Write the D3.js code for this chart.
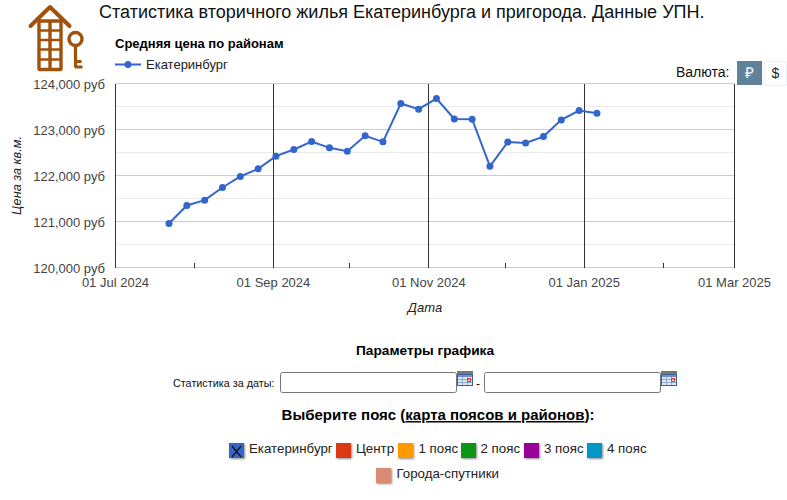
<!DOCTYPE html>
<html><head><meta charset="utf-8">
<script src="https://cdn.jsdelivr.net/npm/d3@7/dist/d3.min.js"></script>
<style>
html,body{margin:0;padding:0;background:#fff;overflow:hidden}
svg{display:block;font-family:"Liberation Sans",Arial,sans-serif}
</style></head><body>
<svg id="c" width="787" height="500"></svg>
<script>
const dates = ["2024-07-22","2024-07-29","2024-08-05","2024-08-12","2024-08-19","2024-08-26","2024-09-02","2024-09-09","2024-09-16","2024-09-23","2024-09-30","2024-10-07","2024-10-14","2024-10-21","2024-10-28","2024-11-04","2024-11-11","2024-11-18","2024-11-25","2024-12-02","2024-12-09","2024-12-16","2024-12-23","2024-12-30","2025-01-06"];
const prices = [120957,121348,121464,121739,121978,122145,122420,122565,122739,122601,122529,122862,122732,123565,123442,123673,123230,123223,122200,122730,122708,122846,123209,123412,123354];
const majorDates = ["2024-07-01","2024-09-01","2024-11-01","2025-01-01","2025-03-01"];
const majorLabels = ["01 Jul 2024","01 Sep 2024","01 Nov 2024","01 Jan 2025","01 Mar 2025"];
const minorDates = ["2024-08-01","2024-10-01","2024-12-01","2025-02-01"];
const yMajor = [120000,121000,122000,123000,124000];
const yMinor = [120500,121500,122500,123500];
const zones = ["Екатеринбург","Центр","1 пояс","2 пояс","3 пояс","4 пояс","Города-спутники"];
const zoneColors = ["#3366cc","#dc3912","#ff9900","#109618","#990099","#0099c6","#d98b73"];

const svg = d3.select("#c");
const parse = d3.utcParse("%Y-%m-%d");
const x = d3.scaleUtc().domain([parse(majorDates[0]), parse(majorDates[4])]).range([115.5,734.5]);
const y = d3.scaleLinear().domain([120000,124000]).range([267.5,83.5]);
const AX = "#444";

const defs = svg.append("defs");
const f = defs.append("filter").attr("id","sh").attr("x","-30%").attr("y","-30%").attr("width","170%").attr("height","170%");
f.append("feDropShadow").attr("dx",1).attr("dy",1).attr("stdDeviation",1).attr("flood-color","#000").attr("flood-opacity",.45);

// logo
const logo = svg.append("g").attr("fill","none").attr("stroke","#a0520c").attr("stroke-linecap","round").attr("stroke-linejoin","round");
logo.append("path").attr("d","M30.5 26 L50 7 L69.5 26").attr("stroke-width",4);
logo.append("rect").attr("x",39).attr("y",21).attr("width",22).attr("height",48.5).attr("rx",1).attr("stroke-width",3.4);
logo.append("path").attr("stroke-width",2.4).attr("stroke-linecap","butt").attr("d","M39 30.5H61 M39 40H61 M39 49.5H61 M39 59.5H61");
logo.append("path").attr("stroke-width",3.4).attr("stroke-linecap","butt").attr("d","M50 20V70");
logo.append("circle").attr("cx",75.5).attr("cy",39).attr("r",6.5).attr("stroke-width",3.4);
logo.append("path").attr("stroke-width",3.2).attr("stroke-linecap","butt").attr("d","M75.5 46V67.5 M75 67H82.5 M75 61.5H81.5");

const t = (px,py,s,o={}) => svg.append("text").attr("x",px).attr("y",py).text(s)
  .attr("font-size",o.size||13).attr("fill",o.fill||"#000").attr("font-weight",o.weight||null)
  .attr("font-style",o.style||null).attr("text-anchor",o.anchor||"start");
t(99,18,"Статистика вторичного жилья Екатеринбурга и пригорода. Данные УПН.",{size:18,fill:"#111"});
t(115,48,"Средняя цена по районам",{size:13,weight:"bold"});
svg.append("line").attr("x1",115).attr("x2",141).attr("y1",64.5).attr("y2",64.5).attr("stroke",zoneColors[0]).attr("stroke-width",2);
svg.append("circle").attr("cx",128).attr("cy",64.5).attr("r",3.5).attr("fill",zoneColors[0]);
t(146,69,zones[0],{size:13,fill:"#222"});

// currency
t(676,77,"Валюта:",{size:14,fill:"#111"});
svg.append("rect").attr("x",737).attr("y",61).attr("width",25).attr("height",24).attr("fill","#5f8199");
svg.append("rect").attr("x",764.5).attr("y",61.5).attr("width",22).attr("height",24).attr("fill","#fff").attr("stroke","#eef5f8");
t(749.5,78,"₽",{size:15,fill:"#fff",anchor:"middle"});
t(775.5,78,"$",{size:14,fill:"#222",anchor:"middle"});

// grid
const g = svg.append("g").attr("shape-rendering","crispEdges");
g.selectAll(".mn").data(yMinor).join("line").attr("x1",115.5).attr("x2",734.5).attr("y1",d=>Math.floor(y(d))+.5).attr("y2",d=>Math.floor(y(d))+.5).attr("stroke","#ebebeb");
g.selectAll(".mj").data(yMajor).join("line").attr("x1",115.5).attr("x2",734.5).attr("y1",d=>Math.floor(y(d))+.5).attr("y2",d=>Math.floor(y(d))+.5).attr("stroke","#cccccc");
g.selectAll(".vx").data(majorDates).join("line").attr("x1",d=>Math.floor(x(parse(d)))+.5).attr("x2",d=>Math.floor(x(parse(d)))+.5).attr("y1",83.5).attr("y2",267.5).attr("stroke","#333");
g.selectAll(".tk").data(minorDates).join("line").attr("x1",d=>Math.floor(x(parse(d)))+.5).attr("x2",d=>Math.floor(x(parse(d)))+.5).attr("y1",263).attr("y2",267.5).attr("stroke","#333");

// axis labels
svg.append("g").selectAll("text").data(yMajor).join("text").attr("x",105).attr("y",d=>y(d)+5)
  .attr("text-anchor","end").attr("font-size",13).attr("fill",AX).text(d=>d3.format(",")(d)+" руб");
svg.append("g").selectAll("text").data(majorDates).join("text").attr("x",d=>x(parse(d))).attr("y",287)
  .attr("text-anchor","middle").attr("font-size",13).attr("fill",AX).text((d,i)=>majorLabels[i]);
t(425,312,"Дата",{size:13,style:"italic",fill:"#222",anchor:"middle"});
svg.append("text").attr("transform","translate(21,175.5) rotate(-90)").attr("text-anchor","middle")
  .attr("font-size",12.7).attr("font-style","italic").attr("fill","#222").text("Цена за кв.м.");

// series
const pts = dates.map((d,i)=>[parse(d),prices[i]]);
svg.append("path").attr("d",d3.line().x(d=>x(d[0])).y(d=>y(d[1]))(pts)).attr("fill","none").attr("stroke",zoneColors[0]).attr("stroke-width",2);
svg.append("g").selectAll("circle").data(pts).join("circle").attr("cx",d=>x(d[0])).attr("cy",d=>y(d[1])).attr("r",3.5).attr("fill",zoneColors[0]);

// parameters
t(425,355,"Параметры графика",{size:13.7,weight:"bold",anchor:"middle"});
t(173,387,"Статистика за даты:",{size:10.8,fill:"#111"});
[280,484].forEach(px=>{
  svg.append("rect").attr("x",px+.5).attr("y",372.5).attr("width",176).attr("height",20).attr("rx",2).attr("fill","#fff").attr("stroke","#767676");
});
t(476,388,"-",{size:12,fill:"#111"});
[457,661].forEach(px=>{
  const c = svg.append("g").attr("transform",`translate(${px},371)`).attr("shape-rendering","crispEdges");
  c.append("rect").attr("x",0).attr("y",0).attr("width",16).attr("height",3).attr("fill","#777");
  c.append("rect").attr("x",.5).attr("y",3.5).attr("width",15).attr("height",11).attr("fill","#dfe8f6").attr("stroke","#3f5f97");
  c.append("rect").attr("x",1).attr("y",4).attr("width",14).attr("height",2).attr("fill","#6f8fc8");
  c.append("path").attr("d","M5.5 6V14 M10.5 6V14 M1 8.5H15 M1 11.5H15").attr("stroke","#8fa8d4").attr("fill","none");
  c.append("rect").attr("x",10.5).attr("y",7.5).attr("width",3).attr("height",3).attr("fill","none").attr("stroke","#e04030");
});

// zone heading
const h = t(438,420,"",{size:15,weight:"bold",anchor:"middle"});
h.append("tspan").text("Выберите пояс (");
h.append("tspan").attr("text-decoration","underline").text("карта поясов и районов");
h.append("tspan").text("):");

// zone picker
const zx = [229,336,398,461,524,587,376];
const zy = [443,443,443,443,443,443,468];
const tx = [249,356,418.5,480.5,544,607,396.5];
zones.forEach((z,i)=>{
  svg.append("rect").attr("x",zx[i]).attr("y",zy[i]).attr("width",15).attr("height",15).attr("fill",zoneColors[i]).attr("filter","url(#sh)");
  t(tx[i],zy[i]+10,z,{size:13.3,fill:"#222"});
});
svg.append("path").attr("d",`M${zx[0]+3} ${zy[0]+3}L${zx[0]+12} ${zy[0]+14}M${zx[0]+12} ${zy[0]+3}L${zx[0]+3} ${zy[0]+14}`).attr("stroke","#111").attr("stroke-width",1.2).attr("fill","none");
</script>
</body></html>
